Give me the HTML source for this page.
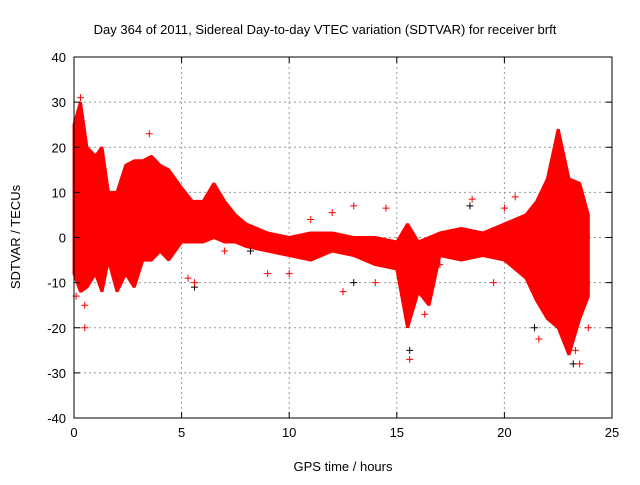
<!DOCTYPE html>
<html><head><meta charset="utf-8"><style>
body{margin:0;background:#fff}
text{font-family:"Liberation Sans",sans-serif;font-size:13px;fill:#000}
</style></head><body>
<svg id="chart" width="640" height="480">
<rect width="640" height="480" fill="#fff"/>
<text x="325" y="34" text-anchor="middle">Day 364 of 2011, Sidereal Day-to-day VTEC variation (SDTVAR) for receiver brft</text>
<text x="343" y="471" text-anchor="middle">GPS time / hours</text>
<text transform="translate(20,237) rotate(-90)" text-anchor="middle">SDTVAR / TECUs</text>
<g id="grid"></g><g id="band"></g><g id="pts"></g><g id="axes"></g>
</svg>
<script>
const xTicks=[0,5,10,15,20,25];
const yTicks=[-40,-30,-20,-10,0,10,20,30,40];
const hours=[0,0.3,0.6,1.0,1.3,1.6,2.0,2.4,2.8,3.2,3.6,4.0,4.4,5.0,5.5,6.0,6.5,7.0,7.5,8.0,9.0,10.0,11.0,12.0,13.0,14.0,15.0,15.5,16.0,16.5,17.0,18.0,19.0,20.0,21.0,21.5,22.0,22.5,23.0,23.5,23.9];
const upper=[25,30,20,18,20,10,10,16,17,17,18,16,15,11,8,8,12,8,5,3,1,0,1,1,0,0,-1,3,-1,0,1,2,1,3,5,8,13,24,13,12,5];
const lower=[-8,-12,-11,-8,-12,-5,-12,-8,-11,-5,-5,-3,-5,-1,-1,-1,0,-1,-1,-2,-3,-4,-5,-3,-4,-6,-7,-20,-12,-15,-4,-5,-4,-5,-9,-14,-18,-20,-26,-18,-13];
const redX=[3.5,0.5,0.5,13,14.5,15.2,15.3,18.5,20,20.5,21.6,23.5,23.3,12.5,9,10,7,6.8,5.6,5.3,15.6,16.3,22.3,23.9,11,12,14,17,19.5,0.1,0.3];
const redY=[23,-15,-20,7,6.5,-1,-4,8.5,6.5,9,-22.5,-28,-25,-12,-8,-8,-3,6,-10,-9,-27,-17,-17,-20,4,5.5,-10,-6,-10,-13,31];
const blkX=[5.6,15.6,23.2,13,21.4,8.2,18.4];
const blkY=[-11,-25,-28,-10,-20,-3,7];
const L=74,R=612,T=57,B=418;
const sx=h=>L+(h-0)/(25-0)*(R-L);
const sy=v=>B-(v+40)/80*(B-T);
const NS='http://www.w3.org/2000/svg';
function mk(t,a,p){const e=document.createElementNS(NS,t);for(const k in a)e.setAttribute(k,a[k]);p.appendChild(e);return e;}
const grid=document.getElementById('grid'),axes=document.getElementById('axes');
xTicks.forEach(t=>{
 if(t>0&&t<25){const g=mk('line',{x1:sx(t),x2:sx(t),y1:T,y2:B,stroke:'#999','stroke-dasharray':'2,3'},grid);
 
 }
 mk('line',{x1:sx(t),x2:sx(t),y1:B,y2:B-6,stroke:'#000'},axes);
 mk('line',{x1:sx(t),x2:sx(t),y1:T,y2:T+6,stroke:'#000'},axes);
 const tx=mk('text',{x:sx(t),y:B+19,'text-anchor':'middle'},axes);tx.textContent=t;
 
 
});
yTicks.forEach(t=>{
 if(t>-40&&t<40){const g=mk('line',{x1:L,x2:R,y1:sy(t),y2:sy(t),stroke:'#999','stroke-dasharray':'2,3'},grid);
 
 }
 mk('line',{x1:L,x2:L+6,y1:sy(t),y2:sy(t),stroke:'#000'},axes);
 mk('line',{x1:R,x2:R-6,y1:sy(t),y2:sy(t),stroke:'#000'},axes);
 const tx=mk('text',{x:L-8,y:sy(t)+5,'text-anchor':'end'},axes);tx.textContent=t;
 
 
});
const fr=mk('rect',{x:L,y:T,width:R-L,height:B-T,fill:'none',stroke:'#000'},axes);


let d='M'+hours.map((h,i)=>sx(h)+','+sy(upper[i])).join('L');
for(let i=hours.length-1;i>=0;i--)d+='L'+sx(hours[i])+','+sy(lower[i]);
const band=mk('path',{d:d+'Z',fill:'#f00',stroke:'#f00','stroke-width':3,'stroke-linejoin':'bevel'},document.getElementById('band'));


const pts=document.getElementById('pts');
function plus(h,v,c,name){
 const x=sx(h),y=sy(v);
 const p=mk('path',{d:`M${x-3.5},${y}h7M${x},${y-3.5}v7`,stroke:c,'stroke-width':1},pts);
 
 
}
blkX.forEach((h,i)=>plus(h,blkY[i],'#000','black-point'));
redX.forEach((h,i)=>plus(h,redY[i],'#f00','red-point'));
</script>
</body></html>
